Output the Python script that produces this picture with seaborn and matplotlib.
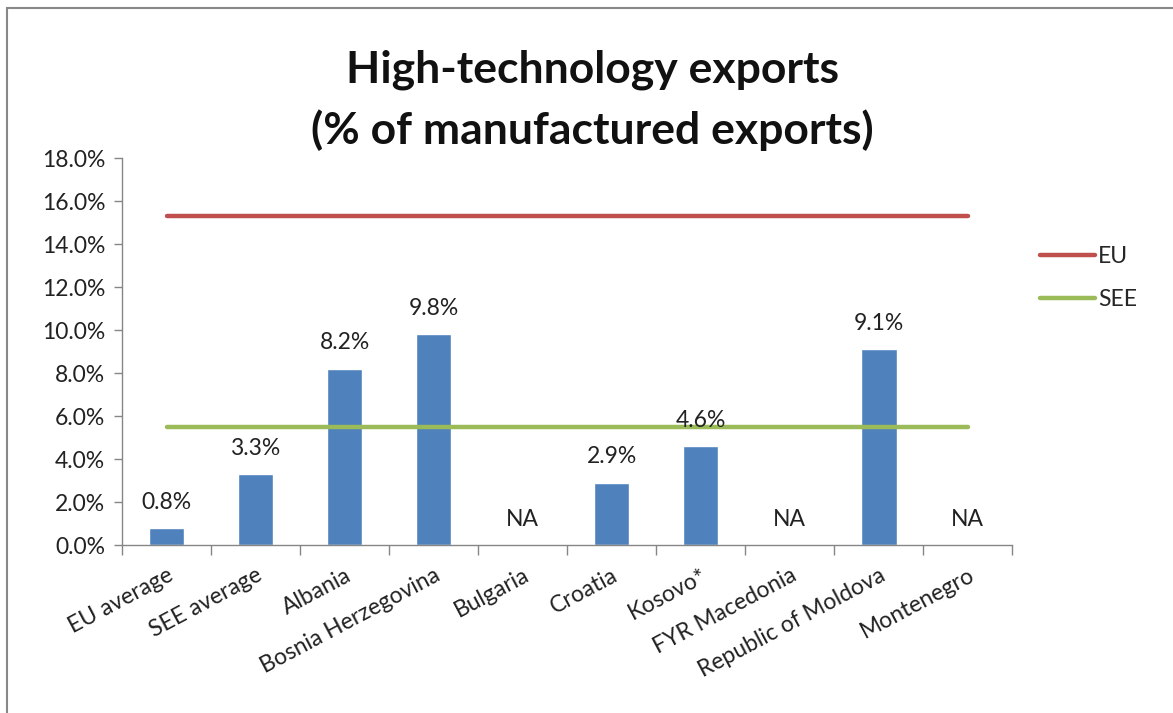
import numpy as np
import pandas as pd
import matplotlib
matplotlib.use("Agg")
import matplotlib.pyplot as plt
from matplotlib.patches import Rectangle
from matplotlib.ticker import PercentFormatter, FixedLocator
import seaborn as sns

# --- data ---
categories = ["EU average", "SEE average", "Albania", "Bosnia Herzegovina", "Bulgaria",
              "Croatia", "Kosovo*", "FYR Macedonia", "Republic of Moldova", "Montenegro"]
values = [0.8, 3.3, 8.2, 9.8, np.nan, 2.9, 4.6, np.nan, 9.1, np.nan]
eu_level = 15.3
see_level = 5.5

sns.set_theme(style="white")
plt.rcParams["font.family"] = ["Lato", "DejaVu Sans"]

df = pd.DataFrame({"country": categories, "value": values})
pos = np.arange(len(categories))
lines = pd.DataFrame({
    "pos": np.concatenate([pos, pos]),
    "level": [eu_level] * len(pos) + [see_level] * len(pos),
    "series": ["EU"] * len(pos) + ["SEE"] * len(pos),
})

fig = plt.figure(figsize=(11.73, 7.13), dpi=100)
ax = fig.add_axes([0.104, 0.2356, 0.759, 0.5428])

sns.barplot(data=df, x="country", y="value", order=categories, color="#4F81BD",
            saturation=1, width=0.4, errorbar=None, ax=ax)
sns.lineplot(data=lines, x="pos", y="level", hue="series",
             palette={"EU": "#C0504D", "SEE": "#9BBB59"}, linewidth=3.2, ax=ax)

# value labels
for i, v in enumerate(values):
    txt = "NA" if np.isnan(v) else f"{v:.1f}%"
    y = 0 if np.isnan(v) else v
    ax.annotate(txt, (i, y), xytext=(0, 11), textcoords="offset points",
                ha="center", va="bottom", fontsize=16.5, color="#222222")

ax.set_xlim(-0.5, len(categories) - 0.5)
ax.set_ylim(0, 18)
ax.yaxis.set_major_locator(FixedLocator(np.arange(0, 18.1, 2)))
ax.yaxis.set_major_formatter(PercentFormatter(decimals=1))
ax.set_xticks(pos)
ax.set_xticklabels(categories, rotation=28, ha="right", rotation_mode="anchor", fontsize=16.5)
ax.set_xticks(np.arange(-0.5, len(categories), 1), minor=True)
ax.tick_params(axis="x", which="major", length=0, pad=14)
ax.tick_params(axis="x", which="minor", length=7, width=1, color="#868686", direction="out", bottom=True)
ax.tick_params(axis="y", length=6, width=1, color="#868686", direction="out", left=True,
               labelsize=16.5, pad=6, labelcolor="#222222")
ax.tick_params(axis="x", labelcolor="#222222")
ax.set_xlabel("")
ax.set_ylabel("")
for side in ["top", "right"]:
    ax.spines[side].set_visible(False)
for side in ["left", "bottom"]:
    ax.spines[side].set_color("#868686")
    ax.spines[side].set_linewidth(1)

ax.legend(loc="center left", bbox_to_anchor=(1.031, 0.69), frameon=False,
          borderpad=0, borderaxespad=0,
          fontsize=16.5, handlelength=2.4, handletextpad=0.15, labelspacing=0.95)

fig.text(0.505, 0.93, "High-technology exports\n(% of manufactured exports)", ha="center", va="top",
         fontsize=32, fontweight="bold", linespacing=1.55, color="#111111")

# outer chart frame
fig.patches.append(Rectangle((7 / 1173, -0.01), 1.1, 1 - 8 / 713 + 0.01, transform=fig.transFigure,
                             fill=False, edgecolor="#888888", linewidth=1.5))

fig.savefig("out.png", dpi=100)
